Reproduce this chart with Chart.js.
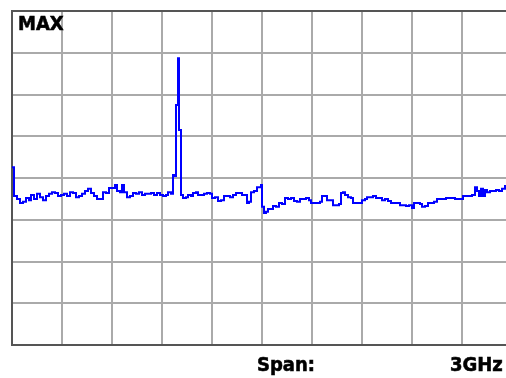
<!DOCTYPE html>
<html>
<head>
<meta charset="utf-8">
<script src="https://cdn.jsdelivr.net/npm/chart.js@4.4.1/dist/chart.umd.min.js"></script>
<style>
  html, body { margin: 0; padding: 0; background: #ffffff; overflow: hidden; width: 506px; height: 378px; }
  #wrap { position: absolute; left: 0; top: 0; width: 520px; height: 378px; }
  .lbl { position: absolute; font-family: "DejaVu Sans", sans-serif; font-weight: bold; font-size: 20px; line-height: 20px; color: #000; white-space: nowrap; transform: scaleX(0.9); transform-origin: left top; -webkit-text-stroke: 0.6px #000; }
</style>
</head>
<body>
<div id="wrap"><canvas id="c" width="520" height="378"></canvas></div>
<div class="lbl" id="mode" style="left:18px; top:13px;"></div>
<div class="lbl" id="spanL" style="left:257px; top:354px;"></div>
<div class="lbl" id="spanV" style="left:450px; top:354px;"></div>
<script>
// Text labels
const traceMode = "MAX";
const spanLabel = "Span:";
const spanValue = "3GHz";

// Axis ranges (frequency in MHz, level in dB relative to reference)
const freqStartMHz = 0;
const freqStopMHz = 3000;
const freqDivMHz = 300;
const refLevelDb = 0;
const bottomLevelDb = -80;
const dbPerDiv = 10;

// Trace: frequency (MHz) and level (dB)
const freqMHz = [
  0, 12, 30, 48, 66, 84, 102, 114, 132, 150, 168, 186, 204, 222, 240, 258, 276, 294, 312, 330,
  348, 366, 384, 402, 420, 438, 456, 474, 492, 510, 528, 546, 564, 582, 600, 618, 630, 648, 660, 672,
  690, 708, 726, 744, 762, 780, 798, 816, 834, 852, 870, 888, 906, 924, 936, 954, 966, 978, 984, 990,
  996, 1002, 1008, 1014, 1026, 1044, 1056, 1074, 1086, 1104, 1116, 1134, 1152, 1170, 1188, 1200, 1218, 1236, 1254, 1272,
  1290, 1308, 1326, 1344, 1362, 1380, 1398, 1410, 1422, 1434, 1452, 1470, 1482, 1494, 1500, 1512, 1524, 1536, 1548, 1566,
  1584, 1602, 1620, 1638, 1656, 1674, 1692, 1710, 1728, 1746, 1764, 1782, 1794, 1812, 1830, 1848, 1860, 1878, 1890, 1908,
  1926, 1944, 1962, 1974, 1986, 1998, 2016, 2034, 2046, 2064, 2082, 2100, 2118, 2130, 2148, 2166, 2184, 2202, 2220, 2238,
  2256, 2274, 2292, 2310, 2328, 2346, 2364, 2382, 2400, 2412, 2430, 2448, 2460, 2478, 2496, 2514, 2532, 2550, 2568, 2586,
  2604, 2622, 2640, 2658, 2676, 2694, 2706, 2724, 2742, 2760, 2778, 2790, 2802, 2814, 2826, 2838, 2850, 2868, 2886, 2904,
  2922, 2940, 2958, 2976, 2994, 3000
];
const levelDb = [
  -37.4, -44.3, -45.0, -46.0, -45.7, -44.8, -45.3, -44.1, -45.0, -43.8, -44.6, -45.3, -44.3, -43.8, -43.4, -43.6, -44.3, -44.1, -43.8, -44.3,
  -43.4, -43.6, -44.6, -44.3, -43.8, -43.1, -42.6, -43.6, -44.3, -45.0, -45.0, -43.4, -43.6, -42.4, -42.4, -41.7, -43.1, -43.4, -41.7, -43.4,
  -44.6, -44.3, -43.6, -43.8, -43.4, -44.1, -43.8, -43.8, -43.6, -44.1, -43.6, -44.1, -44.3, -44.1, -43.4, -43.8, -39.3, -39.5, -22.5, -22.5,
  -11.3, -28.5, -28.5, -44.1, -44.8, -44.6, -44.1, -44.3, -43.6, -43.4, -44.1, -44.1, -43.8, -43.6, -43.8, -44.8, -44.6, -45.5, -45.3, -44.3,
  -44.3, -44.6, -44.1, -43.6, -43.6, -44.1, -44.1, -46.0, -45.7, -43.4, -43.1, -42.2, -42.2, -41.7, -46.9, -48.4, -48.1, -47.4, -47.4, -46.7,
  -46.9, -46.0, -46.2, -44.8, -45.0, -44.8, -45.5, -45.7, -45.0, -45.0, -44.8, -45.3, -46.0, -46.0, -46.0, -45.7, -44.3, -44.3, -45.3, -45.3,
  -46.5, -46.5, -46.2, -43.6, -43.4, -44.1, -44.6, -44.8, -46.0, -46.0, -46.0, -45.3, -45.0, -44.6, -44.6, -44.3, -44.8, -44.8, -45.3, -45.0,
  -45.5, -46.0, -46.0, -46.0, -46.5, -46.5, -46.7, -46.5, -47.2, -46.0, -46.0, -46.2, -46.9, -46.7, -46.0, -46.0, -45.7, -45.0, -45.0, -45.0,
  -44.8, -44.8, -44.8, -45.0, -45.0, -45.0, -44.3, -44.3, -44.3, -44.1, -42.2, -43.1, -44.3, -42.6, -44.3, -42.9, -43.4, -43.1, -43.1, -42.9,
  -43.1, -42.6, -41.9, -41.9, -41.9, -41.9
];

document.getElementById('mode').textContent = traceMode;
document.getElementById('spanL').textContent = spanLabel;
document.getElementById('spanV').textContent = spanValue;

const points = freqMHz.map((f, i) => ({ x: f, y: levelDb[i] }));

const gridGray = '#aaaaaa';
const borderDark = '#555555';

new Chart(document.getElementById('c'), {
  type: 'line',
  data: {
    datasets: [{
      data: points,
      borderColor: '#0000ff',
      borderWidth: 2,
      pointRadius: 0,
      stepped: 'before',
      fill: false,
      tension: 0
    }]
  },
  options: {
    responsive: false,
    animation: false,
    devicePixelRatio: 1,
    layout: { padding: { left: 12, top: 11, right: 8, bottom: 33 } },
    plugins: { legend: { display: false }, tooltip: { enabled: false }, title: { display: false } },
    scales: {
      x: {
        type: 'linear',
        min: freqStartMHz,
        max: freqStopMHz,
        ticks: { display: false, stepSize: freqDivMHz },
        grid: {
          drawTicks: false,
          lineWidth: 2,
          color: (c) => (c.tick && c.tick.value === freqStartMHz) ? borderDark : gridGray
        },
        border: { display: true, color: borderDark, width: 2 }
      },
      y: {
        type: 'linear',
        min: bottomLevelDb,
        max: refLevelDb,
        ticks: { display: false, stepSize: dbPerDiv },
        grid: {
          drawTicks: false,
          lineWidth: 2,
          color: (c) => (c.tick && (c.tick.value === refLevelDb || c.tick.value === bottomLevelDb)) ? borderDark : gridGray
        },
        border: { display: true, color: borderDark, width: 2 }
      }
    }
  }
});
</script>
</body>
</html>
